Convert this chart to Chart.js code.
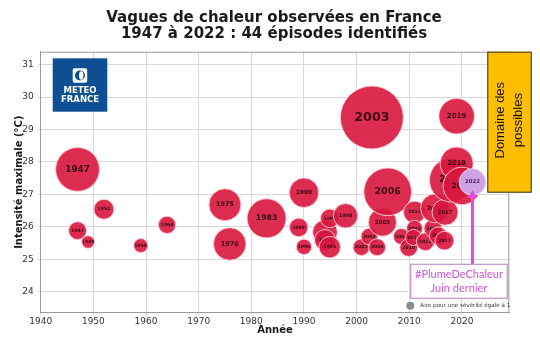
<!DOCTYPE html>
<html>
<head>
<meta charset="utf-8">
<script src="https://cdn.jsdelivr.net/npm/chart.js@4.4.0/dist/chart.umd.min.js"></script>
<style>
  html, body { margin: 0; padding: 0; background: #fff; }
</style>
</head>
<body>
<canvas id="vagues" width="540" height="340"></canvas>
<script>
// épisodes de vague de chaleur : année affichée, position en x, intensité max (°C), sévérité
const annees = ['1947', '1947', '1949', '1952', '1959', '1964', '1975', '1976', '1983', '1989',
                '1990', '1990', '1994', '1994', '1995', '1995', '1998', '2001', '2003', '2003',
                '2004', '2005', '2006', '2009', '2010', '2011', '2012', '2012', '2013', '2015',
                '2015', '2016', '2017', '2017', '2018', '2019', '2019', '2020', '2022'];
const positionX = [1947.0, 1947.0, 1949.0, 1952.0, 1959.0, 1964.0, 1975.0, 1975.9, 1982.9, 1989.0,
                   1990.0, 1990.0, 1994.0, 1994.0, 1994.9, 1994.9, 1997.9, 2000.9, 2002.4, 2002.9,
                   2003.9, 2004.9, 2005.9, 2008.5, 2009.9, 2011.0, 2011.0, 2010.8, 2013.05, 2014.5,
                   2014.9, 2015.5, 2016.8, 2016.7, 2018.0, 2019.0, 2019.0, 2020.0, 2022.0];
const intensite = [27.77, 25.88, 25.53, 26.54, 25.42, 26.06, 26.68, 25.47, 26.26, 25.98,
                   27.05, 25.38, 25.83, 25.59, 26.26, 25.37, 26.34, 25.37, 25.70, 29.37,
                   25.37, 26.14, 27.08, 25.70, 25.36, 26.45, 25.95, 25.67, 25.54, 25.95,
                   26.57, 25.72, 26.45, 25.57, 27.44, 29.41, 27.95, 27.26, 27.38];
const severite = [30, 5, 2.5, 6.3, 3.1, 4.7, 16, 16.6, 23.8, 5.4,
                  13.5, 3.7, 9.5, 6.9, 5.4, 7.2, 9.3, 4.3, 4.3, 62,
                  4.5, 12.3, 35.5, 4, 5, 7.6, 4, 4, 5, 5,
                  13, 5, 10.6, 5.5, 30, 19.8, 17, 22, 11];

const xTicks = [1940, 1950, 1960, 1970, 1980, 1990, 2000, 2010, 2020];
const yTicks = [24, 25, 26, 27, 28, 29, 30, 31];

const titre = ['Vagues de chaleur observées en France', '1947 à 2022 : 44 épisodes identifiés'];
const episodeRecent = '2022';

// aire du disque proportionnelle à la sévérité (sévérité 1 -> rayon 4 px)
const rayon = s => 4 * Math.sqrt(s);

const ROUGE = 'rgba(216, 22, 62, 0.9)';
const MAUVE = '#cfa2e6';

const points = positionX.map((x, i) => ({ x: x, y: intensite[i], r: rayon(severite[i]) }));

const habillage = {
  id: 'habillage',
  beforeDraw(chart) {
    const ctx = chart.ctx;
    ctx.save();
    ctx.fillStyle = '#fff';
    ctx.fillRect(0, 0, chart.width, chart.height);
    ctx.restore();
  },
  // bulles dessinées une à une avec leur étiquette, pour que les suivantes les recouvrent
  beforeDatasetDraw(chart, args) {
    const ctx = chart.ctx;
    const area = chart.chartArea;
    ctx.save();
    ctx.beginPath();
    ctx.rect(area.left, area.top, area.right - area.left, area.bottom - area.top);
    ctx.clip();
    args.meta.data.forEach((el, i) => {
      el.draw(ctx, area);
      const r = points[i].r;
      const fs = Math.max(4.5, r * 0.4);
      ctx.font = 'bold ' + fs.toFixed(1) + 'px "DejaVu Sans"';
      ctx.textAlign = 'center';
      ctx.textBaseline = 'middle';
      ctx.fillStyle = annees[i] === episodeRecent ? '#4a1a68' : '#3b0812';
      ctx.fillText(annees[i], el.x, el.y);
    });
    ctx.restore();
    return false;
  },
  afterDraw(chart) {
    const ctx = chart.ctx;
    const a = chart.chartArea;
    ctx.save();

    // cadre haut et droit
    ctx.strokeStyle = '#9a9a9a';
    ctx.lineWidth = 1;
    ctx.beginPath();
    ctx.moveTo(a.left, a.top + 0.5);
    ctx.lineTo(a.right, a.top + 0.5);
    ctx.moveTo(a.right - 0.5, a.top);
    ctx.lineTo(a.right - 0.5, a.bottom);
    ctx.stroke();

    // titre
    ctx.fillStyle = '#1a1a1a';
    ctx.font = 'bold 15px "DejaVu Sans"';
    ctx.textAlign = 'center';
    ctx.textBaseline = 'alphabetic';
    ctx.fillText(titre[0], 274, 22);
    ctx.fillText(titre[1], 274, 37.5);

    // logo Météo-France
    const lx = a.left + 12, ly = a.top + 6.6;
    ctx.fillStyle = '#0d4f92';
    ctx.fillRect(lx, ly, 54.6, 53.4);
    ctx.fillStyle = '#fff';
    ctx.beginPath();
    ctx.roundRect(lx + 20, ly + 10, 14.5, 14.5, 2);
    ctx.fill();
    ctx.fillStyle = '#0d4f92';
    ctx.beginPath();
    ctx.arc(lx + 27.25, ly + 17.25, 5, 0, Math.PI * 2);
    ctx.fill();
    ctx.fillStyle = '#fff';
    ctx.beginPath();
    ctx.ellipse(lx + 28.5, ly + 17.25, 2.2, 4.2, 0, 0, Math.PI * 2);
    ctx.fill();
    ctx.font = 'bold 8.5px "DejaVu Sans"';
    ctx.textAlign = 'center';
    ctx.textBaseline = 'middle';
    ctx.fillText('METEO', lx + 27.3, ly + 32);
    ctx.fillText('FRANCE', lx + 27.3, ly + 41);

    // encadré « Domaine des possibles »
    const bx = a.right - 22, bw = 44.4, bh = 141;
    ctx.fillStyle = '#ffbf00';
    ctx.fillRect(bx, a.top, bw, bh);
    ctx.strokeStyle = '#333';
    ctx.lineWidth = 1;
    ctx.strokeRect(bx + 0.5, a.top + 0.5, bw - 1, bh - 1);
    ctx.save();
    ctx.translate(bx + bw / 2, a.top + bh / 2 - 2);
    ctx.rotate(-Math.PI / 2);
    ctx.fillStyle = '#111';
    ctx.font = '13px "Liberation Sans"';
    ctx.textAlign = 'center';
    ctx.textBaseline = 'middle';
    ctx.fillText('Domaine des', 0, -9);
    ctx.fillText('possibles', 0, 9);
    ctx.restore();

    // flèche vers l'épisode de juin 2022
    const meta = chart.getDatasetMeta(0);
    const iRecent = annees.lastIndexOf(episodeRecent);
    const pt = meta.data[iRecent];
    const boxTop = a.bottom - 48.4;
    ctx.strokeStyle = '#e04ae6';
    ctx.fillStyle = '#e04ae6';
    ctx.lineWidth = 3;
    ctx.beginPath();
    ctx.moveTo(pt.x, boxTop);
    ctx.lineTo(pt.x, pt.y + 14);
    ctx.stroke();
    ctx.beginPath();
    ctx.moveTo(pt.x, pt.y + 8);
    ctx.lineTo(pt.x - 4.5, pt.y + 16);
    ctx.lineTo(pt.x + 4.5, pt.y + 16);
    ctx.closePath();
    ctx.fill();

    // encadré #PlumeDeChaleur
    const ax = a.right - 98.6, aw = 96.6, ah = 34;
    ctx.fillStyle = '#fff';
    ctx.fillRect(ax, boxTop, aw, ah);
    ctx.strokeStyle = '#c48fd2';
    ctx.lineWidth = 1.2;
    ctx.strokeRect(ax, boxTop, aw, ah);
    ctx.fillStyle = '#cf52d6';
    ctx.font = '11px Lato';
    ctx.textAlign = 'center';
    ctx.textBaseline = 'middle';
    ctx.fillText('#PlumeDeChaleur', ax + aw / 2, boxTop + 10.5);
    ctx.fillText('Juin dernier', ax + aw / 2, boxTop + 24);

    // légende de l'aire
    const gx = a.right - 99, gy = a.bottom - 7;
    ctx.fillStyle = '#8c8c8c';
    ctx.beginPath();
    ctx.arc(gx, gy, rayon(1), 0, Math.PI * 2);
    ctx.fill();
    ctx.fillStyle = '#333';
    ctx.font = '5.6px "DejaVu Sans"';
    ctx.textAlign = 'left';
    ctx.fillText('Aire pour une sévérité égale à 1', gx + 10, gy);

    ctx.restore();
  }
};

new Chart(document.getElementById('vagues'), {
  type: 'bubble',
  data: {
    datasets: [{
      data: points,
      backgroundColor: annees.map(a => a === episodeRecent ? MAUVE : ROUGE),
      borderColor: annees.map(a => a === episodeRecent ? '#ead5f5' : 'rgba(255, 205, 215, 0.9)'),
      borderWidth: 1
    }]
  },
  options: {
    responsive: false,
    devicePixelRatio: 1,
    animation: false,
    events: [],
    layout: { autoPadding: false, padding: { top: 51.7, right: 30.7, left: 0, bottom: 0 } },
    plugins: {
      legend: { display: false },
      tooltip: { enabled: false }
    },
    scales: {
      x: {
        type: 'linear',
        min: 1940,
        max: 2029,
        afterBuildTicks: s => { s.ticks = xTicks.map(v => ({ value: v })); },
        afterFit: s => { s.height = 27.3; },
        grid: { color: '#d9d9d9', tickLength: 2 },
        border: { color: '#9a9a9a' },
        ticks: {
          color: '#333',
          padding: 2,
          font: { family: 'DejaVu Sans', size: 9 },
          callback: v => String(v)
        },
        title: {
          display: true,
          text: 'Année',
          color: '#1a1a1a',
          padding: { top: 0, bottom: 4 },
          font: { family: 'DejaVu Sans', size: 10, weight: 'bold' }
        }
      },
      y: {
        min: 23.35,
        max: 31.4,
        afterBuildTicks: s => { s.ticks = yTicks.map(v => ({ value: v })); },
        afterFit: s => { s.width = 40.7; },
        grid: { color: '#d9d9d9', tickLength: 3 },
        border: { color: '#9a9a9a' },
        ticks: {
          color: '#333',
          padding: 4,
          font: { family: 'DejaVu Sans', size: 9 },
          callback: v => String(v)
        },
        title: {
          display: true,
          text: 'Intensité maximale (°C)',
          color: '#1a1a1a',
          padding: { top: 13, bottom: 0 },
          font: { family: 'DejaVu Sans', size: 10, weight: 'bold' }
        }
      }
    }
  },
  plugins: [habillage]
});
</script>
</body>
</html>
